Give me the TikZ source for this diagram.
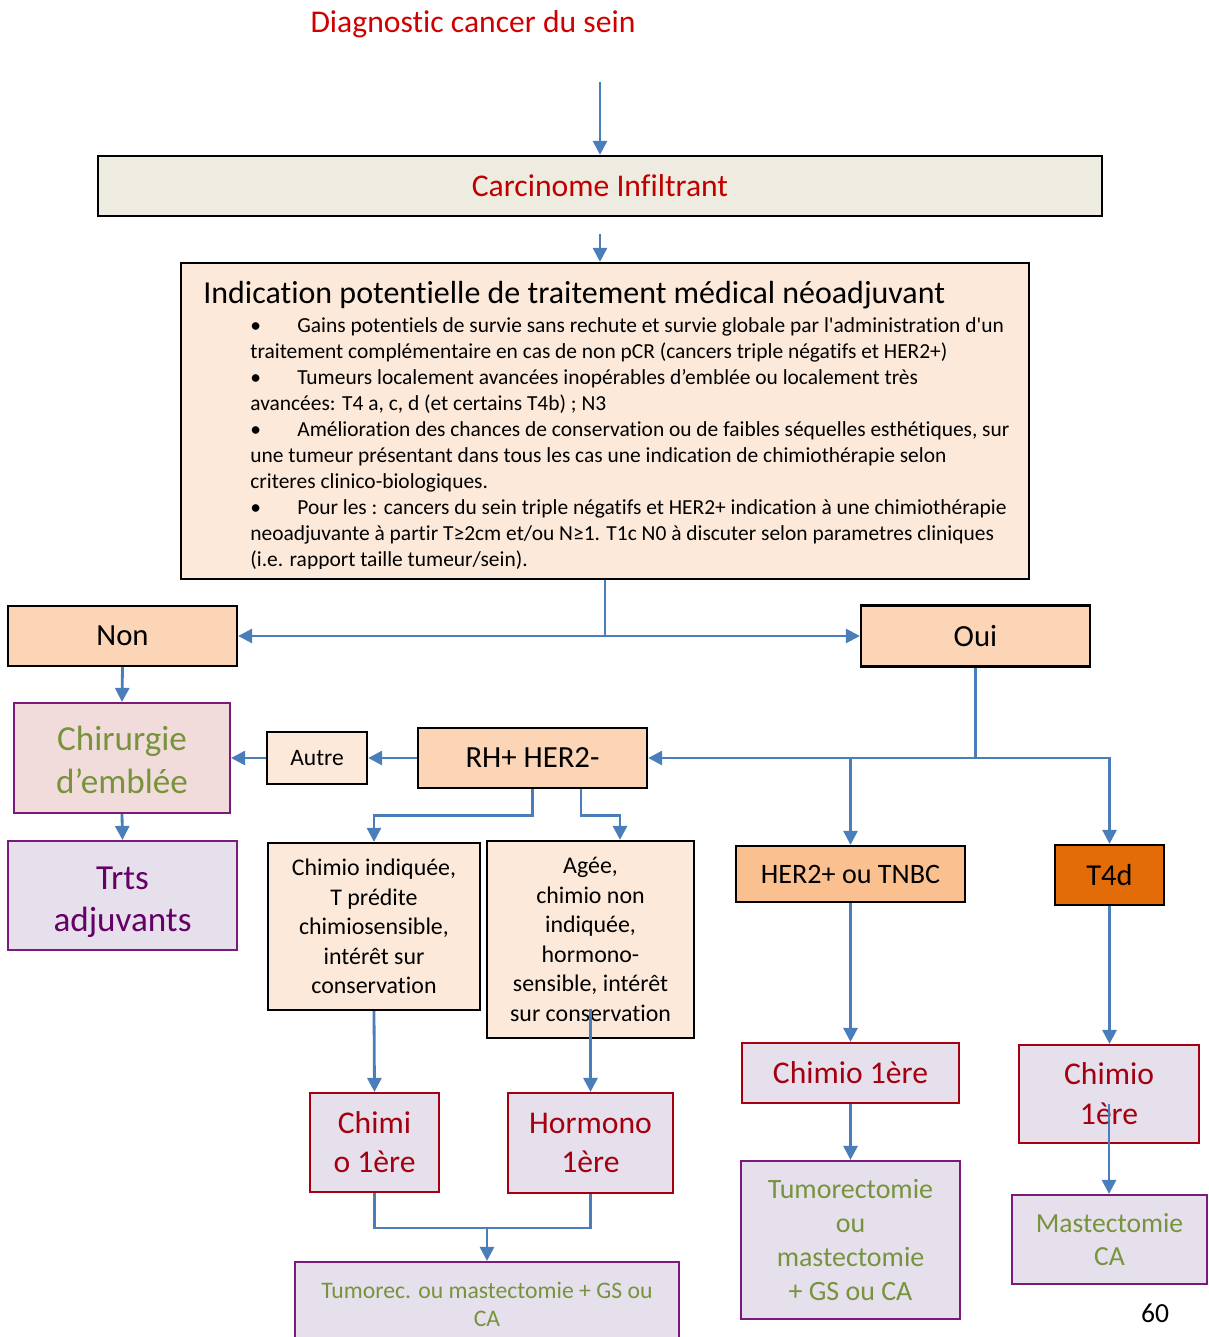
\documentclass[tikz,border=0pt]{standalone}
\usepackage{fontspec}
\defaultfontfeatures[\rmfamily]{}
\setmainfont{Carlito}[Ligatures=NoCommon]
\usetikzlibrary{arrows.meta,calc}
\definecolor{diagred}{HTML}{D00000}
\definecolor{titred}{HTML}{C00000}
\definecolor{carcfill}{HTML}{EEECE1}
\definecolor{pk}{HTML}{FDE9D9}
\definecolor{pch}{HTML}{FBD5B5}
\definecolor{herfill}{HTML}{FAC090}
\definecolor{t4fill}{HTML}{E36C09}
\definecolor{chirfill}{HTML}{F2DCDB}
\definecolor{lav}{HTML}{E5E0EC}
\definecolor{purp}{HTML}{7A1A7A}
\definecolor{purtxt}{HTML}{660066}
\definecolor{grn}{HTML}{77933C}
\definecolor{dred}{HTML}{A50010}
\definecolor{arrblue}{HTML}{4A7EBB}
\begin{document}
\begin{tikzpicture}[x=0.02cm,y=-0.02cm,
  sz/.style 2 args={minimum width=#1*0.02cm, minimum height=#2*0.02cm},
  blk/.style={draw=black, line width=1.3pt, inner sep=0pt, align=center},
  pur/.style={draw=purp, line width=1.2pt, inner sep=0pt, align=center, fill=lav},
  drd/.style={draw=dred, line width=1.2pt, inner sep=0pt, align=center, fill=lav, text=dred},
  conn/.style={draw=arrblue, line width=1.6pt},
  arr/.style={conn, -{Triangle[length=8pt,width=8pt]}}
]
\useasboundingbox (0,0) rectangle (1208,1337);

% title
\node[text=diagred, font=\fontsize{18}{22}\selectfont] (diag) at (473,24) {Diagnostic cancer du sein};
\node[blk, fill=carcfill, text=titred, sz={1004}{60}, font=\fontsize{18}{22}\selectfont] (carc) at (600,186) {Carcinome Infiltrant};
\coordinate (d0) at (600,82);
\draw[arr] (d0) -- (carc.north);

% big box
\node[blk, fill=pk, sz={848}{316}] (big) at (605,421) {};
\coordinate (c1) at (600,234);
\draw[arr] (c1) -- (c1 |- big.north);
\node[anchor=base west, inner sep=0pt, font=\fontsize{18.2}{21}\selectfont] (bigt) at (203,304) {Indication potentielle de traitement médical néoadjuvant};
\begin{scope}
\clip (183,265) rectangle (1027,568.5);
\node[anchor=north west, inner sep=0pt, align=left, font=\fontsize{12.2}{14.8}\selectfont] (bigb) at (250,317) {%
\makebox[0.94cm][l]{•}Gains potentiels de survie sans rechute et survie globale par l'administration d'un\\
traitement complémentaire en cas de non pCR (cancers triple négatifs et HER2+)\\
\makebox[0.94cm][l]{•}Tumeurs localement avancées inopérables d’emblée ou localement très\\
avancées: T4 a, c, d (et certains T4b) ; N3\\
\makebox[0.94cm][l]{•}Amélioration des chances de conservation ou de faibles séquelles esthétiques, sur\\
une tumeur présentant dans tous les cas une indication de chimiothérapie selon\\
criteres clinico-biologiques.\\
\makebox[0.94cm][l]{•}Pour les : cancers du sein triple négatifs et HER2+ indication à une chimiothérapie\\
neoadjuvante à partir T≥2cm et/ou N≥1. T1c N0 à discuter selon parametres cliniques\\
(i.e. rapport taille tumeur/sein).};
\end{scope}

% Non / Oui
\node[blk, fill=pch, sz={229}{60}, font=\fontsize{17.5}{21}\selectfont] (non) at (122.5,636) {Non};
\node[blk, fill=pch, sz={229}{61}, font=\fontsize{17.5}{21}\selectfont] (oui) at (975.5,636) {Oui};
\draw[conn] (big.south) -- (big.south |- non.east) coordinate (sp);
\draw[arr] (sp) -- (non.east);
\draw[arr] (sp) -- (oui.west);

% left column
\node[pur, fill=chirfill, text=grn, sz={216}{110}, font=\fontsize{20}{24.4}\selectfont] (chir) at (122,758) {\rule{0pt}{0.56cm}Chirurgie\\d’emblée};
\node[pur, text=purtxt, sz={229}{109}, font=\fontsize{20}{24.4}\selectfont] (trts) at (122.5,895.5) {\rule{0pt}{0.72cm}Trts\\adjuvants};
\draw[arr] (non.south) -- (chir.north);
\draw[arr] (chir.south) -- (trts.north);

% RH+ branch
\node[blk, fill=pk, sz={100}{52}, font=\fontsize{13.4}{16}\selectfont] (autre) at (317,758) {Autre};
\node[blk, fill=pch, sz={229}{60}, font=\fontsize{17.5}{21}\selectfont] (rh) at (532.5,758) {RH+ HER2-};
\draw[arr] (rh.west) -- (autre.east);
\draw[arr] (autre.west) -- (chir.east);

\node[blk, fill=pk, sz={212}{167}, font=\fontsize{13.6}{16.8}\selectfont] (ci) at (374,926.5) {Chimio indiquée,\\T prédite\\chimiosensible,\\intérêt sur\\conservation};
\node[blk, fill=pk, sz={207}{197}, font=\fontsize{13.6}{16.8}\selectfont] (agee) at (590.5,939.5) {Agée,\\chimio non\\indiquée,\\hormono-\\sensible, intérêt\\sur conservation};
\draw[arr] (rh.south) -- ++(0,26) -| (ci.north);
\draw[arr] ($(rh.south)+(48.5,0)$) -- ++(0,26) -| ($(agee.north)+(29.5,0)$);

\node[drd, sz={129}{99}, font=\fontsize{18}{22.2}\selectfont] (chimi) at (374.5,1142.5) {Chimi\\o 1ère};
\node[drd, sz={165}{100}, font=\fontsize{18}{22.2}\selectfont] (horm) at (590.5,1143) {Hormono\\1ère};
\draw[arr] (ci.south) -- (chimi.north);
\draw[arr] ($(agee.south)+(0,-30)$) -- (horm.north);

\node[pur, text=grn, sz={384}{84}, font=\fontsize{13.5}{16}\selectfont] (tumorec) at (487,1304) {Tumorec. ou mastectomie + GS ou\\CA};
\draw[conn] (chimi.south) -- ++(0,35) coordinate (m1) -| (horm.south);
\draw[arr] (m1 -| tumorec.north) -- (tumorec.north);

% Oui branch
\node[blk, fill=herfill, sz={229}{56}, font=\fontsize{16}{19}\selectfont] (her) at (850.5,874) {HER2+ ou TNBC};
\node[blk, fill=t4fill, sz={109}{60}, font=\fontsize{17.3}{21}\selectfont] (t4d) at (1109.5,875) {T4d};
\draw[conn] (oui.south) -- (oui.south |- rh.east) coordinate (j);
\draw[arr] (j) -- (rh.east);
\draw[arr] (j) -| (t4d.north);
\draw[arr] (her.north |- j) -- (her.north);

\node[drd, sz={217}{60}, font=\fontsize{18}{22}\selectfont] (chimio2) at (850.5,1073) {Chimio 1ère};
\node[pur, text=grn, sz={219}{158}, font=\fontsize{15.9}{19.4}\selectfont] (tumo2) at (850.5,1240) {Tumorectomie\\ou\\mastectomie\\+ GS ou CA};
\draw[arr] (her.south) -- (chimio2.north);
\draw[arr] (chimio2.south) -- (tumo2.north);

\node[drd, sz={180}{98}, font=\fontsize{18}{22.7}\selectfont] (chimio3) at (1109,1094) {Chimio\\1ère};
\node[pur, text=grn, sz={195}{89}, font=\fontsize{15.7}{18.8}\selectfont] (mast) at (1109.5,1239.5) {Mastectomie\\CA};
\draw[arr] (t4d.south) -- (t4d.south |- chimio3.north);
\draw[arr] ($(chimio3.south)+(0,-40)$) -- (chimio3.south |- mast.north);

\node[font=\fontsize{15.7}{19}\selectfont] (pg) at (1155,1313) {60};
\end{tikzpicture}
\end{document}
